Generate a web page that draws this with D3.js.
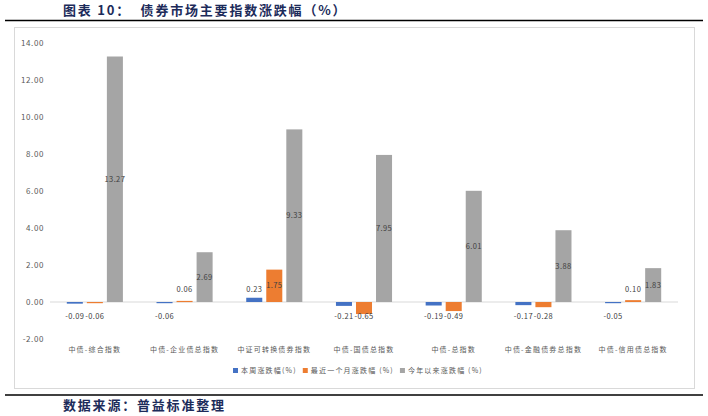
<!DOCTYPE html>
<html>
<head>
<meta charset="utf-8">
<script src="https://cdn.jsdelivr.net/npm/d3@7"></script>
<style>
  body { margin: 0; background: #fff; }
  svg { display: block; font-family: "Noto Sans CJK SC", "DejaVu Sans", sans-serif; }
</style>
</head>
<body>
<svg width="708" height="416"></svg>
<script>
// data
const categories = ['中债-综合指数', '中债-企业债总指数', '中证可转换债券指数', '中债-国债总指数', '中债-总指数', '中债-金融债券总指数', '中债-信用债总指数'];
const seriesNames = ['本周涨跌幅(%)', '最近一个月涨跌幅 (%)', '今年以来涨跌幅 (%)'];
const weekChange = [-0.09, -0.06, 0.23, -0.21, -0.19, -0.17, -0.05];
const monthChange = [-0.06, 0.06, 1.75, -0.65, -0.49, -0.28, 0.10];
const ytdChange = [13.27, 2.69, 9.33, 7.95, 6.01, 3.88, 1.83];
const yTicks = [-2, 0, 2, 4, 6, 8, 10, 12, 14];

const colors = ['#4472C4', '#ED7D31', '#A5A5A5'];
const seriesValues = [weekChange, monthChange, ytdChange];

const svg = d3.select('svg');

// title + rules
svg.append('text')
    .attr('x', 63).attr('y', 15)
    .attr('font-size', 13).attr('font-weight', 'bold')
    .attr('fill', '#1C2B5A').attr('letter-spacing', 1.8)
    .style('white-space', 'pre')
    .text('图表 10：  债券市场主要指数涨跌幅（%）');
svg.append('line').attr('x1', 5).attr('x2', 703).attr('y1', 20.5).attr('y2', 20.5)
    .attr('stroke', '#000').attr('stroke-width', 1.6);
svg.append('line').attr('x1', 5).attr('x2', 703).attr('y1', 395).attr('y2', 395)
    .attr('stroke', '#000').attr('stroke-width', 1.6);
svg.append('text')
    .attr('x', 63).attr('y', 410)
    .attr('font-size', 13).attr('font-weight', 'bold')
    .attr('fill', '#1C2B5A').attr('letter-spacing', 1.8)
    .text('数据来源：普益标准整理');

// chart frame
svg.append('rect').attr('x', 14.5).attr('y', 27.5).attr('width', 680).attr('height', 361)
    .attr('fill', 'none').attr('stroke', '#D9D9D9');

const margin = {left: 50, right: 30, top: 43, bottom: 77};
const innerW = 708 - margin.left - margin.right;

const x0 = d3.scaleBand().domain(categories).range([margin.left, margin.left + innerW]).paddingInner(0.33).paddingOuter(0.165);
const x1 = d3.scaleBand().domain(d3.range(3)).range([0, x0.bandwidth()]).padding(0.2).paddingOuter(0.1);
const y = d3.scaleLinear().domain([-2, 14]).range([339, 43]);

// y axis labels
const yAxis = d3.axisLeft(y).tickValues(yTicks).tickFormat(d3.format('.2f')).tickSize(0).tickPadding(0);
svg.append('g').attr('transform', 'translate(44,0)').call(yAxis)
    .call(g => g.select('.domain').remove())
    .selectAll('text').attr('font-size', 8).attr('fill', '#595959')
    .attr('font-family', '"Noto Sans CJK SC", sans-serif').attr('letter-spacing', 0.6)
    .text(d => d3.format('.2f')(d).replace('−', '-'));

// zero line
svg.append('line').attr('x1', margin.left).attr('x2', margin.left + innerW)
    .attr('y1', y(0)).attr('y2', y(0)).attr('stroke', '#D9D9D9');

const groups = svg.selectAll('g.cat').data(categories).enter().append('g')
    .attr('class', 'cat')
    .attr('transform', d => `translate(${x0(d)},0)`);

groups.selectAll('rect').data((d, i) => seriesValues.map((s, k) => ({k, v: s[i]})))
    .enter().append('rect')
    .attr('x', d => x1(d.k))
    .attr('width', x1.bandwidth())
    .attr('y', d => Math.min(y(d.v), y(0)))
    .attr('height', d => Math.max(Math.abs(y(d.v) - y(0)), 1.2))
    .attr('fill', d => colors[d.k]);

// data labels
groups.selectAll('text.val').data((d, i) => seriesValues.map((s, k) => ({k, v: s[i]})))
    .enter().append('text')
    .attr('class', 'val')
    .attr('x', d => x1(d.k) + x1.bandwidth() / 2)
    .attr('y', d => {
        if (d.k === 2) return (y(d.v) + y(0)) / 2;
        if (d.v > 1) return (y(d.v) + y(0)) / 2;
        return d.v >= 0 ? y(0) - 13 : y(0) + 14;
    })
    .attr('dy', '0.35em')
    .attr('text-anchor', 'middle')
    .attr('font-size', 7.5).attr('fill', '#404040').attr('letter-spacing', 0.4)
    .text(d => d3.format('.2f')(d.v).replace('−', '-'));

// category labels
svg.append('g').selectAll('text').data(categories).enter().append('text')
    .attr('x', d => x0(d) + x0.bandwidth() / 2)
    .attr('y', 352)
    .attr('text-anchor', 'middle')
    .attr('font-size', 7).attr('fill', '#595959').attr('letter-spacing', 1.2)
    .text(d => d);

// legend
const legend = svg.append('g').attr('transform', 'translate(233,371)');
let lx = 0;
seriesNames.forEach((name, k) => {
    const item = legend.append('g').attr('transform', `translate(${lx},0)`);
    item.append('rect').attr('x', 0).attr('y', -3).attr('width', 5).attr('height', 5).attr('fill', colors[k]);
    const t = item.append('text').attr('x', 8).attr('y', 0).attr('dy', '0.35em')
        .attr('font-size', 7).attr('fill', '#595959').attr('letter-spacing', 1.2).text(name);
    lx += 8 + t.node().getComputedTextLength() + 6;
});
</script>
</body>
</html>
